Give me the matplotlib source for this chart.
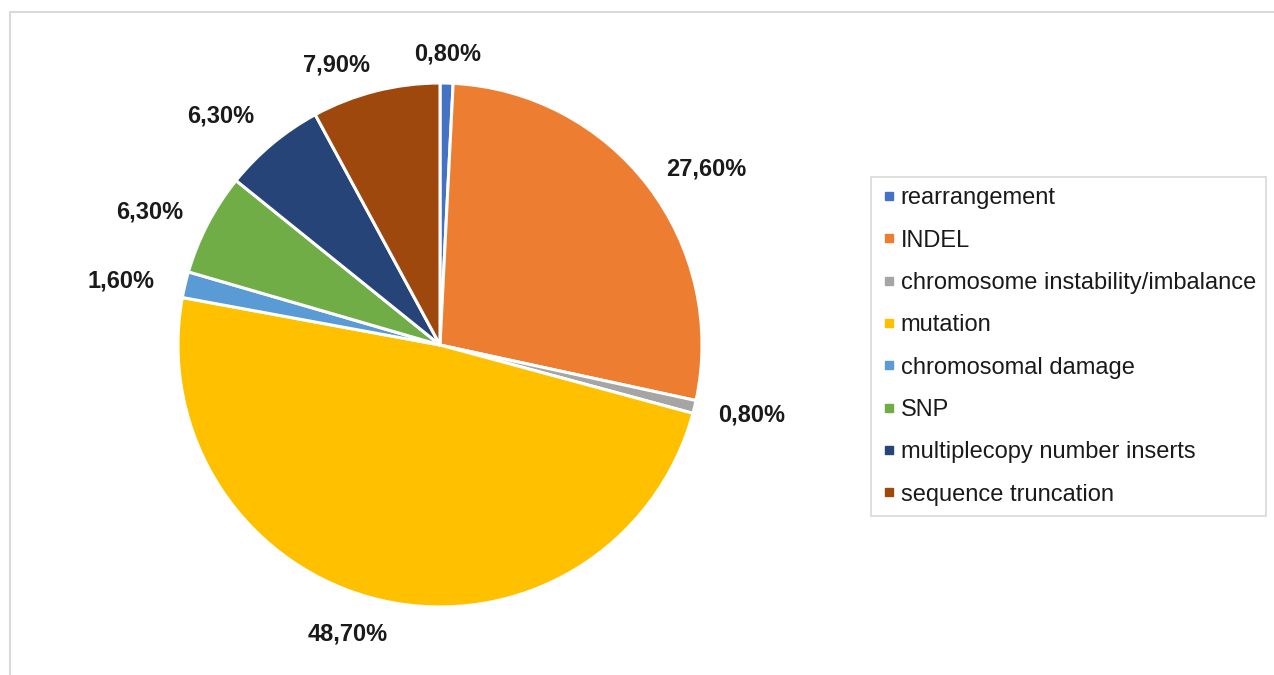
import numpy as np
import matplotlib.pyplot as plt
from matplotlib.lines import Line2D
from matplotlib.patches import Rectangle

plt.rcParams['font.family'] = ['Liberation Sans', 'DejaVu Sans']

# data
categories = ['rearrangement', 'INDEL', 'chromosome instability/imbalance',
              'mutation', 'chromosomal damage', 'SNP',
              'multiplecopy number inserts', 'sequence truncation']
shares = [0.8, 27.6, 0.8, 48.7, 1.6, 6.3, 6.3, 7.9]
label_texts = ['0,80%', '27,60%', '0,80%', '48,70%', '1,60%', '6,30%', '6,30%', '7,90%']
colors = ['#4472C4', '#ED7D31', '#A5A5A5', '#FFC000',
          '#5B9BD5', '#70AD47', '#264478', '#9E480E']

# label distance from centre (in radii) per slice, Excel "best fit"-like
label_dist = [1.11, 1.22, 1.22, 1.16, 1.24, 1.22, 1.21, 1.14]
label_nudge = [0, -4, 1, -5, 2, 3, 4, 6]   # degrees

W, H = 1274, 675
fig = plt.figure(figsize=(W / 100, H / 100), dpi=100)

# outer chart border
fig.patches.append(Rectangle((10 / W, -0.1), 1.2, 1.1 - 12 / H, transform=fig.transFigure,
                             fill=False, edgecolor='#d9d9d9', linewidth=1.5))

cx, cy, R = 440, 345, 262
ax = fig.add_axes([(cx - R) / W, (H - cy - R) / H, 2 * R / W, 2 * R / H])

wedges, _ = ax.pie(shares, colors=colors, startangle=90, counterclock=False, radius=1,
                   wedgeprops=dict(edgecolor='white', linewidth=2.2))
ax.set_xlim(-1, 1)
ax.set_ylim(-1, 1)
ax.axis('off')

for w, txt, d, nd in zip(wedges, label_texts, label_dist, label_nudge):
    ang = np.deg2rad((w.theta1 + w.theta2) / 2 + nd)
    ax.text(d * np.cos(ang), d * np.sin(ang), txt, ha='center', va='center',
            fontsize=17, fontweight='bold', color='#1a1a1a')

handles = [Line2D([], [], marker='s', linestyle='none', markersize=5.5,
                  markerfacecolor=c, markeredgecolor=c) for c in colors]
leg = fig.legend(handles, categories, loc='center left',
                 bbox_to_anchor=(871 / W, 1 - 346.5 / H), fontsize=17,
                 frameon=True, fancybox=False, edgecolor='#d0d0d0',
                 labelspacing=0.86, handlelength=0.6, handletextpad=0.2,
                 borderpad=0.45, borderaxespad=0)
leg.get_frame().set_linewidth(1.2)
for t in leg.get_texts():
    t.set_color('#1a1a1a')

fig.savefig('out.png', dpi=100, facecolor='white')
